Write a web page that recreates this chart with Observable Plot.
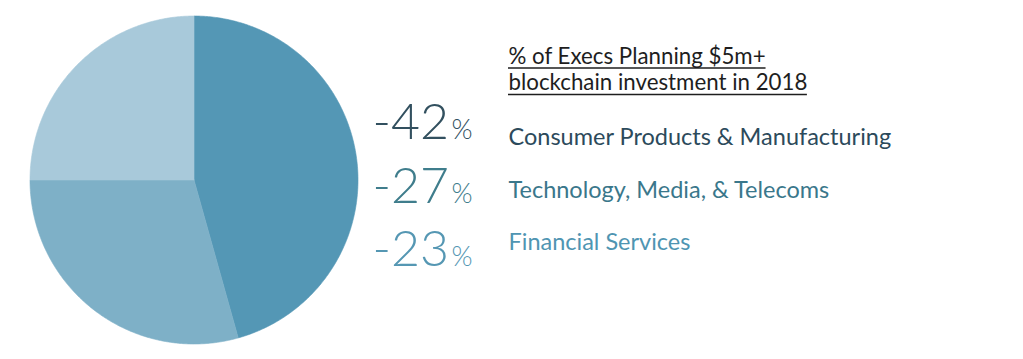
<!DOCTYPE html>
<html>
<head>
<meta charset="utf-8">
<script src="https://cdn.jsdelivr.net/npm/d3@7"></script>
<script src="https://cdn.jsdelivr.net/npm/@observablehq/plot@0.6"></script>
<style>
  html, body { margin: 0; padding: 0; background: #fff; }
</style>
</head>
<body>
<div id="chart"></div>
<script>
// Data
const sectors = ["Consumer Products & Manufacturing", "Technology, Media, & Telecoms", "Financial Services"];
const shares = [42, 27, 23];
const valueLabels = ["-42", "-27", "-23"];
const sliceColors = ["#5497b5", "#7eb0c7", "#a8c9da"];
const textColors = ["#2c4a5b", "#3a778b", "#4f95b2"];
const numberColors = ["#32505f", "#3f7d8c", "#5597b3"];
const titleLines = ["% of Execs Planning $5m+", "blockchain investment in 2018"];

// Layout (pie units: radius = 1, centred at 0,0)
const W = 1023, H = 359;
const cx = 193.5, cy = 179.5, R = 164;
const xDomain = [-cx / R, (W - cx) / R];
const yDomain = [-(H - cy) / R, cy / R];
const toU = px => (px - cx) / R;
const toV = py => (cy - py) / R;
const FONT = "Lato, 'Noto Sans', sans-serif";
const titleSize = 22.3;

// pie wedges from d3.pie (clockwise from 12 o'clock)
const arcs = d3.pie().sort(null)(shares);
const wedgePts = [];
arcs.forEach((a, i) => {
  wedgePts.push({s: i, x: 0, y: 0});
  const n = Math.max(8, Math.ceil((a.endAngle - a.startAngle) / 0.01));
  for (let k = 0; k <= n; k++) {
    const t = a.startAngle + (a.endAngle - a.startAngle) * k / n;
    wedgePts.push({s: i, x: Math.sin(t), y: Math.cos(t)});
  }
  wedgePts.push({s: i, x: 0, y: 0});
});

const rows = sectors.map((name, i) => ({
  i, name, value: valueLabels[i],
  numY: toV([138.3, 202.3, 265.3][i]),
  labY: toV([144.5, 197, 249.5][i])
}));

// title lines, with underline length measured from the text itself
const ctx = document.createElement("canvas").getContext("2d");
ctx.font = `${titleSize}px ${FONT}`;
const titleRows = titleLines.map((t, i) => ({
  t,
  y: toV([63, 89.5][i]),
  uy: toV([67.5, 94][i]),
  x1: toU(508),
  x2: toU(508 + ctx.measureText(t).width)
}));

function draw() {
  ctx.font = `${titleSize}px ${FONT}`;
  titleRows.forEach(r => { r.x2 = toU(508 + ctx.measureText(r.t).width); });
  const plot = Plot.plot({
    width: W, height: H,
    margin: 0,
    x: {domain: xDomain, axis: null},
    y: {domain: yDomain, axis: null},
    style: {fontFamily: FONT, background: "#fff", overflow: "visible"},
    marks: [
      Plot.line(wedgePts, {x: "x", y: "y", z: "s", fill: d => sliceColors[d.s], stroke: d => sliceColors[d.s], strokeWidth: 0.6, curve: "linear"}),
      Plot.text(rows, {x: toU(448.5), y: "numY", text: "value", textAnchor: "end", lineAnchor: "bottom",
        fontSize: 50, fontWeight: 300, fill: (d) => numberColors[d.i]}),
      Plot.text(rows, {x: toU(451), y: "numY", text: () => "%", textAnchor: "start", lineAnchor: "bottom",
        fontSize: 27, fontWeight: 300, fill: (d) => numberColors[d.i]}),
      Plot.text(rows, {x: toU(508), y: "labY", text: "name", textAnchor: "start", lineAnchor: "bottom",
        fontSize: 23.5, fill: (d) => textColors[d.i]}),
      Plot.text(titleRows, {x: "x1", y: "y", text: "t", textAnchor: "start", lineAnchor: "bottom",
        fontSize: titleSize, fill: "#1e1e1e"}),
      Plot.ruleY(titleRows, {y: "uy", x1: "x1", x2: "x2", stroke: "#1e1e1e", strokeWidth: 1.5})
    ]
  });
  const el = document.getElementById("chart");
  el.innerHTML = "";
  el.appendChild(plot);
}
draw();
if (document.fonts && document.fonts.load) {
  document.fonts.load(`${titleSize}px Lato`).then(draw);
}
</script>
</body>
</html>
